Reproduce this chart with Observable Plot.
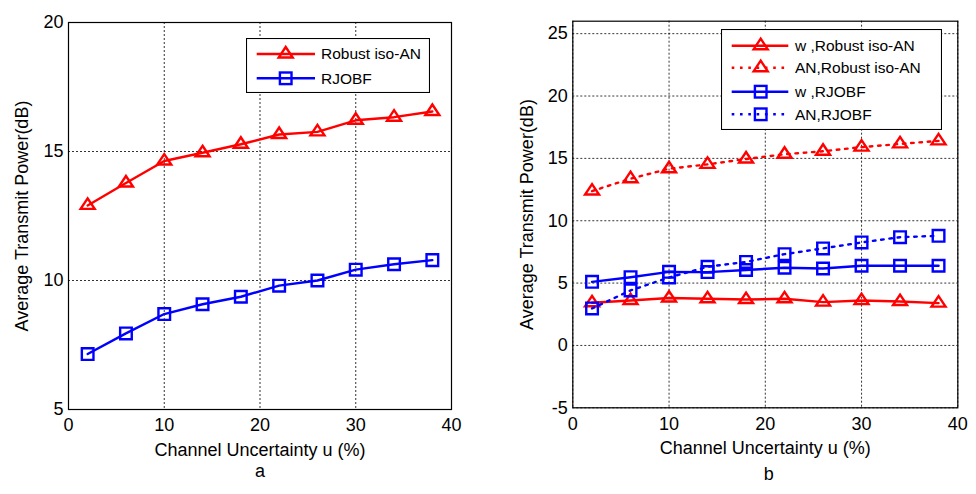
<!DOCTYPE html>
<html>
<head>
<meta charset="utf-8">
<script src="https://cdn.jsdelivr.net/npm/d3@7"></script>
<script src="https://cdn.jsdelivr.net/npm/@observablehq/plot@0.6"></script>
<style>
  html, body { margin: 0; padding: 0; background: white; }
  #wrap { position: relative; width: 976px; height: 494px; overflow: hidden; background: white;
          font-family: 'Liberation Sans', Arial, Helvetica, sans-serif; }
  .panel { position: absolute; top: 0; }
  .cap { position: absolute; font-size: 18px; line-height: 1; transform: translateX(-50%); }
  .legend { position: absolute; }
</style>
</head>
<body>
<div id="wrap"></div>
<script>
// ---------- data ----------
const uncertainty = [2, 6, 10, 14, 18, 22, 26, 30, 34, 38];

// panel a
const robustIsoAN_a = [12.91, 13.78, 14.63, 14.95, 15.28, 15.66, 15.76, 16.21, 16.33, 16.55];
const rjobf_a       = [7.15, 7.95, 8.7, 9.08, 9.37, 9.8, 10.0, 10.42, 10.63, 10.79];

// panel b
const wRobust_b  = [3.42, 3.6, 3.8, 3.74, 3.68, 3.74, 3.47, 3.6, 3.52, 3.39];
const anRobust_b = [12.38, 13.37, 14.17, 14.52, 14.95, 15.33, 15.57, 15.9, 16.16, 16.4];
const wRjobf_b   = [5.1, 5.47, 5.9, 5.88, 6.05, 6.23, 6.17, 6.39, 6.39, 6.39];
const anRjobf_b  = [2.97, 4.41, 5.45, 6.31, 6.7, 7.32, 7.78, 8.26, 8.68, 8.79];

const xTicks  = [0, 10, 20, 30, 40];
const yTicksA = [5, 10, 15, 20];
const yTicksB = [-5, 0, 5, 10, 15, 20, 25];

const xLabel = "Channel Uncertainty u (%)";
const yLabel = "Average Transmit Power(dB)";
const legendA = ["Robust iso-AN", "RJOBF"];
const legendB = ["w ,Robust iso-AN", "AN,Robust iso-AN", "w ,RJOBF", "AN,RJOBF"];
const captions = ["a", "b"];

// ---------- styling ----------
const RED = "#ff0000", BLUE = "#0000ff";
const DOTTED = "2.6,5.7";
const LW = 2.4;
const triangle = {
  draw(ctx, size) {
    const r = Math.sqrt(size / Math.PI);
    ctx.moveTo(0, -r);
    ctx.lineTo(r, r / 2);
    ctx.lineTo(-r, r / 2);
    ctx.closePath();
  }
};
const square = {
  draw(ctx, size) {
    const r = Math.sqrt(size / Math.PI) * 0.88;
    ctx.rect(-r, -r, 2 * r, 2 * r);
  }
};

const toRows = (vals) => uncertainty.map((u, i) => ({u, v: vals[i]}));

function seriesMarks(vals, color, sym, dotted) {
  const rows = toRows(vals);
  return [
    Plot.line(rows, {x: "u", y: "v", stroke: color, strokeWidth: LW,
      strokeDasharray: dotted ? DOTTED : null}),
    Plot.dot(rows, {x: "u", y: "v", symbol: sym, r: sym === triangle ? 7 : 6.6,
      stroke: color, strokeWidth: LW, fill: "none"})
  ];
}

const gridStyle = {stroke: "black", strokeOpacity: 1, strokeWidth: 0.8, strokeDasharray: "2,2"};
const baseStyle = {fontFamily: "'Liberation Sans', Arial, Helvetica, sans-serif", fontSize: "18px",
  background: "white", color: "black", overflow: "visible"};
const fmt = (d) => `${d}`;

function panel(opts) {
  return Plot.plot({
    width: 488, height: 494,
    marginLeft: opts.ml, marginRight: opts.mr, marginTop: opts.mt, marginBottom: opts.mb,
    style: baseStyle,
    x: {domain: [0, 40], ticks: xTicks, tickFormat: fmt, tickSize: 0, tickPadding: 9, label: xLabel,
        labelAnchor: "center", labelArrow: "none", labelOffset: 46},
    y: {domain: opts.yDomain, ticks: opts.yTicks, tickFormat: fmt, tickSize: 0, tickPadding: 5, label: yLabel,
        labelAnchor: "center", labelArrow: "none", labelOffset: 53},
    marks: [
      Plot.gridX(xTicks, gridStyle),
      Plot.gridY(opts.yTicks, gridStyle),
      Plot.frame({stroke: "black", strokeWidth: 1.2}),
      ...opts.series
    ]
  });
}

const wrap = document.getElementById("wrap");

const plotA = panel({
  ml: 68, mr: 37, mt: 22, mb: 85, yDomain: [5, 20], yTicks: yTicksA,
  series: [
    ...seriesMarks(robustIsoAN_a, RED, triangle, false),
    ...seriesMarks(rjobf_a, BLUE, square, false)
  ]
});
plotA.classList.add("panel");
plotA.style.left = "0px";
wrap.appendChild(plotA);

const plotB = panel({
  ml: 84.3, mr: 18.7, mt: 20.7, mb: 86.7, yDomain: [-5, 26], yTicks: yTicksB,
  series: [
    ...seriesMarks(wRobust_b, RED, triangle, false),
    ...seriesMarks(anRobust_b, RED, triangle, true),
    ...seriesMarks(wRjobf_b, BLUE, square, false),
    ...seriesMarks(anRjobf_b, BLUE, square, true)
  ]
});
plotB.classList.add("panel");
plotB.style.left = "488px";
wrap.appendChild(plotB);

// ---------- legends (drawn as small SVG boxes) ----------
function triPath(cx, cy, r) {
  return `M${cx},${cy - r}L${cx + r},${cy + r / 2}L${cx - r},${cy + r / 2}Z`;
}
function legend(x, y, w, h, items, rowY, lineX0, lineX1, markX, textX) {
  const ns = "http://www.w3.org/2000/svg";
  let s = `<svg xmlns="${ns}" class="legend" style="left:${x}px;top:${y}px" width="${w}" height="${h}">`;
  s += `<rect x="0.5" y="0.5" width="${w - 1}" height="${h - 1}" fill="white" stroke="black" stroke-width="1.1"/>`;
  items.forEach((it, i) => {
    const cy = rowY[i];
    s += `<line x1="${lineX0}" x2="${lineX1}" y1="${cy}" y2="${cy}" stroke="${it.color}" stroke-width="${LW}"${it.dotted ? ` stroke-dasharray="${DOTTED}"` : ""}/>`;
    if (it.tri) s += `<path d="${triPath(markX, cy, 7)}" fill="none" stroke="${it.color}" stroke-width="${LW}"/>`;
    else s += `<rect x="${markX - 5.8}" y="${cy - 5.8}" width="11.6" height="11.6" fill="none" stroke="${it.color}" stroke-width="${LW}"/>`;
    s += `<text x="${textX}" y="${cy}" dy="0.35em" font-size="15.5" font-family="'Liberation Sans', Arial, sans-serif" fill="black">${it.label}</text>`;
  });
  s += `</svg>`;
  wrap.insertAdjacentHTML("beforeend", s);
}

legend(246, 38, 184, 55, [
  {label: legendA[0], color: RED, tri: true, dotted: false},
  {label: legendA[1], color: BLUE, tri: false, dotted: false}
], [16, 40.3], 10.7, 69, 39.7, 75);

legend(721, 29, 221, 101, [
  {label: legendB[0], color: RED, tri: true, dotted: false},
  {label: legendB[1], color: RED, tri: true, dotted: true},
  {label: legendB[2], color: BLUE, tri: false, dotted: false},
  {label: legendB[3], color: BLUE, tri: false, dotted: true}
], [16.7, 38.7, 62.7, 85.3], 10.7, 67.3, 39.7, 74);

// ---------- captions ----------
const capPos = [[260, 462], [768.7, 465]];
captions.forEach((c, i) => {
  const d = document.createElement("div");
  d.className = "cap";
  d.textContent = c;
  d.style.left = capPos[i][0] + "px";
  d.style.top = capPos[i][1] + "px";
  wrap.appendChild(d);
});
</script>
</body>
</html>
